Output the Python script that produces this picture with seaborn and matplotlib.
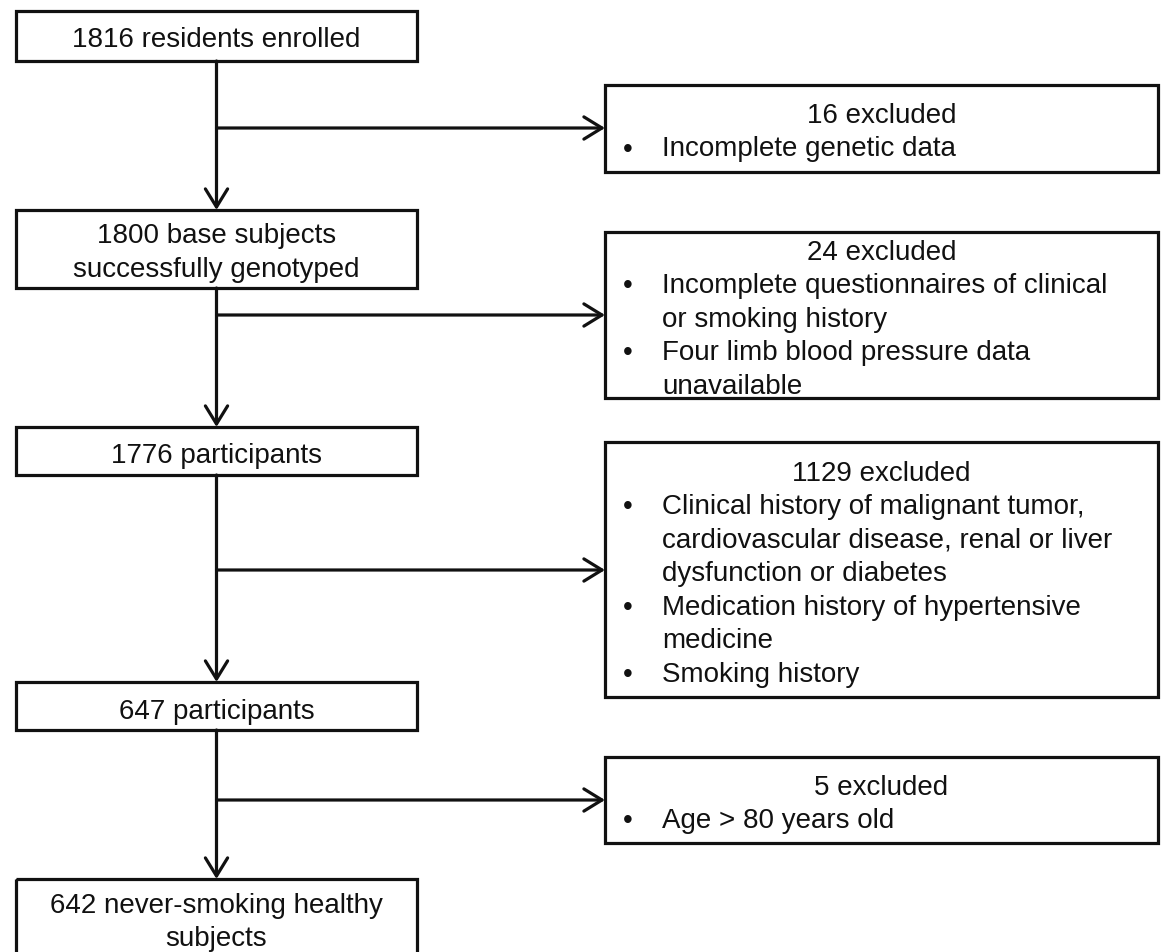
import matplotlib
matplotlib.use("Agg")
import matplotlib.pyplot as plt
import seaborn as sns
from matplotlib.patches import Rectangle

# ---- data (texts of the flow chart) ----
main_steps = [
    ["1816 residents enrolled"],
    ["1800 base subjects", "successfully genotyped"],
    ["1776 participants"],
    ["647 participants"],
    ["642 never-smoking healthy", "subjects"],
]
excluded_counts = [16, 24, 1129, 5]
excluded_reasons = [
    [["Incomplete genetic data"]],
    [["Incomplete questionnaires of clinical", "or smoking history"],
     ["Four limb blood pressure data", "unavailable"]],
    [["Clinical history of malignant tumor,", "cardiovascular disease, renal or liver",
      "dysfunction or diabetes"],
     ["Medication history of hypertensive", "medicine"],
     ["Smoking history"]],
    [["Age > 80 years old"]],
]

# ---- layout (pixel coordinates on a 1165 x 953 canvas) ----
W, H = 1165, 953
left_x0, left_x1 = 16, 417
left_boxes_y = [(12, 62), (211, 289), (428, 476), (683, 731), (880, 962)]
left_baseline = [[47], [243, 277], [463], [719], [913, 946]]
right_x0, right_x1 = 605, 1158
right_boxes_y = [(86, 173), (233, 399), (443, 698), (758, 844)]
right_title_baseline = [123, 260, 481, 795]
branch_y = [129, 316, 571, 801]
line_step = 33.5
bullet_x, text_x = 628, 662

sns.set_theme(style="white")
plt.rcParams["font.family"] = ["Liberation Sans", "DejaVu Sans"]

fig = plt.figure(figsize=(W / 100, H / 100), dpi=100)
ax = fig.add_axes([0, 0, 1, 1])
ax.set_xlim(0, W)
ax.set_ylim(H, 0)
ax.axis("off")

LW = 2.3
FS = 20
col = "#111111"
cx = (left_x0 + left_x1) / 2

# left column boxes
for (y0, y1), lines, bls in zip(left_boxes_y, main_steps, left_baseline):
    ax.add_patch(Rectangle((left_x0, y0), left_x1 - left_x0, y1 - y0,
                           fill=False, lw=LW, ec=col, joinstyle="miter"))
    for t, b in zip(lines, bls):
        ax.text(cx, b, t, ha="center", va="baseline", fontsize=FS, color=col)

arrow_kw = dict(arrowstyle="->,head_length=0.65,head_width=0.4", lw=LW,
                color=col, shrinkA=0, shrinkB=0, mutation_scale=20)

# vertical arrows
for i in range(len(left_boxes_y) - 1):
    ax.annotate("", xy=(cx, left_boxes_y[i + 1][0]), xytext=(cx, left_boxes_y[i][1]),
                arrowprops=arrow_kw)

# right boxes
for (y0, y1), n, reasons, tb, by in zip(right_boxes_y, excluded_counts, excluded_reasons,
                                         right_title_baseline, branch_y):
    ax.add_patch(Rectangle((right_x0, y0), right_x1 - right_x0, y1 - y0,
                           fill=False, lw=LW, ec=col, joinstyle="miter"))
    ax.text((right_x0 + right_x1) / 2, tb, f"{n} excluded", ha="center",
            va="baseline", fontsize=FS, color=col)
    k = 1
    for item in reasons:
        for j, line in enumerate(item):
            yb = tb + k * line_step
            if j == 0:
                ax.text(bullet_x, yb, "•", ha="center", va="baseline",
                        fontsize=FS, color=col)
            ax.text(text_x, yb, line, ha="left", va="baseline", fontsize=FS, color=col)
            k += 1
    ax.annotate("", xy=(right_x0, by), xytext=(cx, by), arrowprops=arrow_kw)

fig.savefig("out.png", dpi=100, facecolor="white")
